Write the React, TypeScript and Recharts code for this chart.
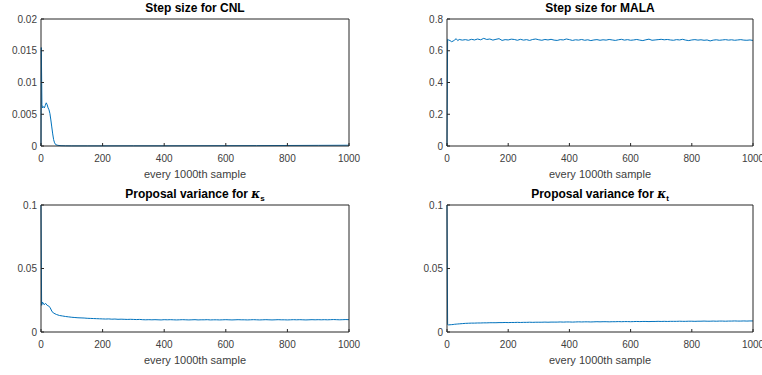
import React from "react";
import { LineChart, Line, XAxis, YAxis } from "recharts";

// sample positions (x axis: every 1000th sample)
const grid = [
  0, 2, 5, 10, 15, 20, 25, 30, 35, 40,
  50, 60, 70, 80, 90, 100, 110, 120, 130, 140,
  150, 160, 170, 180, 190, 200, 210, 220, 230, 240,
  250, 260, 270, 280, 290, 300, 310, 320, 330, 340,
  350, 360, 370, 380, 390, 400, 410, 420, 430, 440,
  450, 460, 470, 480, 490, 500, 510, 520, 530, 540,
  550, 560, 570, 580, 590, 600, 610, 620, 630, 640,
  650, 660, 670, 680, 690, 700, 710, 720, 730, 740,
  750, 760, 770, 780, 790, 800, 810, 820, 830, 840,
  850, 860, 870, 880, 890, 900, 910, 920, 930, 940,
  950, 960, 970, 980, 990, 1000,
];

const malaStep = [
  0, 0.672, 0.668, 0.664, 0.657, 0.661, 0.668, 0.676, 0.664, 0.671,
  0.667, 0.670, 0.666, 0.672, 0.668, 0.674, 0.669, 0.678, 0.671, 0.674,
  0.667, 0.672, 0.676, 0.665, 0.670, 0.668, 0.673, 0.671, 0.666, 0.672,
  0.667, 0.670, 0.665, 0.671, 0.674, 0.669, 0.666, 0.671, 0.668, 0.672,
  0.667, 0.665, 0.670, 0.668, 0.674, 0.670, 0.665, 0.669, 0.667, 0.671,
  0.666, 0.669, 0.664, 0.668, 0.670, 0.666, 0.669, 0.667, 0.671, 0.668,
  0.665, 0.669, 0.672, 0.667, 0.670, 0.666, 0.668, 0.671, 0.667, 0.664,
  0.669, 0.673, 0.666, 0.668, 0.670, 0.672, 0.669, 0.671, 0.668, 0.666,
  0.670, 0.668, 0.672, 0.667, 0.664, 0.668, 0.670, 0.667, 0.669, 0.666,
  0.668, 0.662, 0.667, 0.669, 0.666, 0.668, 0.670, 0.667, 0.669, 0.666,
  0.668, 0.670, 0.667, 0.666, 0.668, 0.665,
];

const kappaSVar = [
  0.1, 0.021, 0.0235, 0.0215, 0.0225, 0.021, 0.0205, 0.019, 0.0165, 0.015,
  0.0138, 0.013, 0.0126, 0.0122, 0.0119, 0.0116, 0.0114, 0.0112, 0.0111, 0.011,
  0.0108, 0.0107, 0.0106, 0.0105, 0.0104, 0.0103, 0.0102, 0.0103, 0.0101, 0.0102,
  0.01, 0.0101, 0.01, 0.0099, 0.01, 0.0099, 0.0098, 0.0099, 0.0097, 0.0096,
  0.0097, 0.0096, 0.0097, 0.0096, 0.0095, 0.0097, 0.0096, 0.0097, 0.0096, 0.0095,
  0.0096, 0.0097, 0.0096, 0.0095, 0.0096, 0.0097, 0.0095, 0.0096, 0.0096, 0.0097,
  0.0095, 0.0096, 0.0096, 0.0095, 0.0096, 0.0097, 0.0096, 0.0095, 0.0096, 0.0097,
  0.0096, 0.0096, 0.0095, 0.0096, 0.0097, 0.0096, 0.0095, 0.0096, 0.0097, 0.0096,
  0.0095, 0.0096, 0.0097, 0.0096, 0.0096, 0.0095, 0.0096, 0.0097, 0.0096, 0.0097,
  0.0096, 0.0095, 0.0096, 0.0097, 0.0096, 0.0097, 0.0096, 0.0097, 0.0096, 0.0097,
  0.0098, 0.0097, 0.0096, 0.0097, 0.0098, 0.0097,
];

const kappaTVar = [
  0.1, 0.0058, 0.0056, 0.0057, 0.0058, 0.0059, 0.0061, 0.0062, 0.0063, 0.0064,
  0.0066, 0.0068, 0.0069, 0.007, 0.007, 0.0071, 0.0071, 0.0072, 0.0072, 0.0073,
  0.0073, 0.0073, 0.0074, 0.0074, 0.0075, 0.0074, 0.0075, 0.0075, 0.0076, 0.0075,
  0.0076, 0.0076, 0.0077, 0.0076, 0.0077, 0.0077, 0.0077, 0.0078, 0.0077, 0.0078,
  0.0078, 0.0078, 0.0079, 0.0078, 0.0079, 0.0079, 0.0078, 0.0079, 0.008, 0.0079,
  0.008, 0.008, 0.0079, 0.008, 0.0081, 0.008, 0.0081, 0.0081, 0.008, 0.0081,
  0.0081, 0.0082, 0.0081, 0.0082, 0.0082, 0.0081, 0.0082, 0.0083, 0.0082, 0.0083,
  0.0083, 0.0082, 0.0083, 0.0083, 0.0084, 0.0083, 0.0084, 0.0083, 0.0084, 0.0084,
  0.0084, 0.0085, 0.0084, 0.0084, 0.0085, 0.0085, 0.0084, 0.0085, 0.0085, 0.0086,
  0.0085, 0.0085, 0.0086, 0.0085, 0.0086, 0.0086, 0.0085, 0.0086, 0.0086, 0.0087,
  0.0086, 0.0086, 0.0087, 0.0086, 0.0087, 0.0087,
];

// CNL step size has its own, denser sampling near the start
const cnlX = [
  0, 1, 3, 5, 8, 11, 14, 17, 20, 23, 26, 29, 32, 35, 38, 41, 44, 48, 55, 65,
  80, 100, 150, 200, 300, 400, 500, 600, 700, 800, 900, 1000,
];
const cnlStep = [
  0, 0.0155, 0.0065, 0.006, 0.0062, 0.006, 0.0064, 0.0068, 0.0065, 0.006,
  0.0057, 0.0051, 0.0041, 0.003, 0.0019, 0.001, 0.0005, 0.0002, 0.0001, 0.00005,
  0.00003, 0.00002, 0.00002, 0.00002, 0.00003, 0.00003, 0.00004, 0.00005, 0.00006, 0.00008,
  0.0001, 0.00012,
];

const xTicks = [0, 200, 400, 600, 800, 1000];
const cnlTicks = [0, 0.005, 0.01, 0.015, 0.02];
const malaTicks = [0, 0.2, 0.4, 0.6, 0.8];
const varTicks = [0, 0.05, 0.1];

const FONT = '"Liberation Sans", Arial, Helvetica, sans-serif';
const AXIS = "#262626";
const TEXT = "#404040";
const LINE = "#0072BD";
const CW = 381;
const CH = 187;

const toRows = (xs: number[], ys: number[]) => xs.map((x, i) => ({ x, y: ys[i] }));

type PanelProps = {
  left: number;
  top: number;
  plotLeft: number;
  plotRight: number;
  plotTop: number;
  plotBottom: number;
  rows: { x: number; y: number }[];
  yTicks: number[];
  title: React.ReactNode;
};

function Panel({ left, top, plotLeft, plotRight, plotTop, plotBottom, rows, yTicks, title }: PanelProps) {
  const yw = 40;
  const xh = 30;
  const margin = {
    left: plotLeft - left - yw,
    right: left + CW - plotRight - 1,
    top: plotTop - top - 1,
    bottom: top + CH - plotBottom - xh,
  };
  const domain: [number, number] = [yTicks[0], yTicks[yTicks.length - 1]];
  const cx = (plotLeft + plotRight) / 2;
  return (
    <>
      <div
        style={{
          position: "absolute",
          left: cx - 150,
          width: 300,
          top: plotTop - 18,
          textAlign: "center",
          fontFamily: FONT,
          fontWeight: "bold",
          fontSize: 12,
          lineHeight: "14px",
          color: "#000",
          whiteSpace: "nowrap",
        }}
      >
        {title}
      </div>
      <div
        style={{
          position: "absolute",
          left: cx - 150,
          width: 300,
          top: plotBottom + 22,
          textAlign: "center",
          fontFamily: FONT,
          fontSize: 11,
          lineHeight: "13px",
          color: TEXT,
        }}
      >
        every 1000th sample
      </div>
      <div style={{ position: "absolute", left, top, width: CW, height: CH }}>
        <LineChart width={CW} height={CH} data={rows} margin={margin}>
          <XAxis
            dataKey="x"
            type="number"
            domain={[0, 1000]}
            ticks={xTicks}
            interval={0}
            height={xh}
            tickSize={-3}
            tickMargin={12}
            stroke={AXIS}
            tick={{ fill: TEXT, fontSize: 10, fontFamily: FONT }}
          />
          <XAxis
            xAxisId="top"
            orientation="top"
            dataKey="x"
            type="number"
            domain={[0, 1000]}
            ticks={xTicks}
            interval={0}
            height={1}
            tickSize={-3}
            tick={false}
            stroke={AXIS}
          />
          <YAxis
            type="number"
            domain={domain}
            ticks={yTicks}
            interval={0}
            width={yw}
            tickSize={-3}
            tickMargin={7}
            stroke={AXIS}
            tick={{ fill: TEXT, fontSize: 10, fontFamily: FONT }}
          />
          <YAxis
            yAxisId="right"
            orientation="right"
            type="number"
            domain={domain}
            ticks={yTicks}
            interval={0}
            width={1}
            tickSize={-3}
            tick={false}
            stroke={AXIS}
          />
          <Line
            dataKey="y"
            type="linear"
            dot={false}
            stroke={LINE}
            strokeWidth={1}
            isAnimationActive={false}
          />
        </LineChart>
      </div>
    </>
  );
}

export default function App() {
  const kappa = (sub: string) => (
    <>
      Proposal variance for <i style={{ fontFamily: '"DejaVu Serif", serif' }}>κ</i>
      <sub style={{ fontSize: 8 }}>{sub}</sub>
    </>
  );
  return (
    <div
      style={{
        position: "absolute",
        left: 0,
        top: 0,
        width: 762,
        height: 375,
        background: "#fff",
        overflow: "hidden",
      }}
    >
      <Panel
        left={0}
        top={0}
        plotLeft={41}
        plotRight={349}
        plotTop={19}
        plotBottom={146}
        rows={toRows(cnlX, cnlStep)}
        yTicks={cnlTicks}
        title="Step size for CNL"
      />
      <Panel
        left={CW}
        top={0}
        plotLeft={447}
        plotRight={753}
        plotTop={19}
        plotBottom={146}
        rows={toRows(grid, malaStep)}
        yTicks={malaTicks}
        title="Step size for MALA"
      />
      <Panel
        left={0}
        top={CH}
        plotLeft={41}
        plotRight={349}
        plotTop={205}
        plotBottom={332}
        rows={toRows(grid, kappaSVar)}
        yTicks={varTicks}
        title={kappa("s")}
      />
      <Panel
        left={CW}
        top={CH}
        plotLeft={447}
        plotRight={753}
        plotTop={205}
        plotBottom={332}
        rows={toRows(grid, kappaTVar)}
        yTicks={varTicks}
        title={kappa("t")}
      />
    </div>
  );
}
